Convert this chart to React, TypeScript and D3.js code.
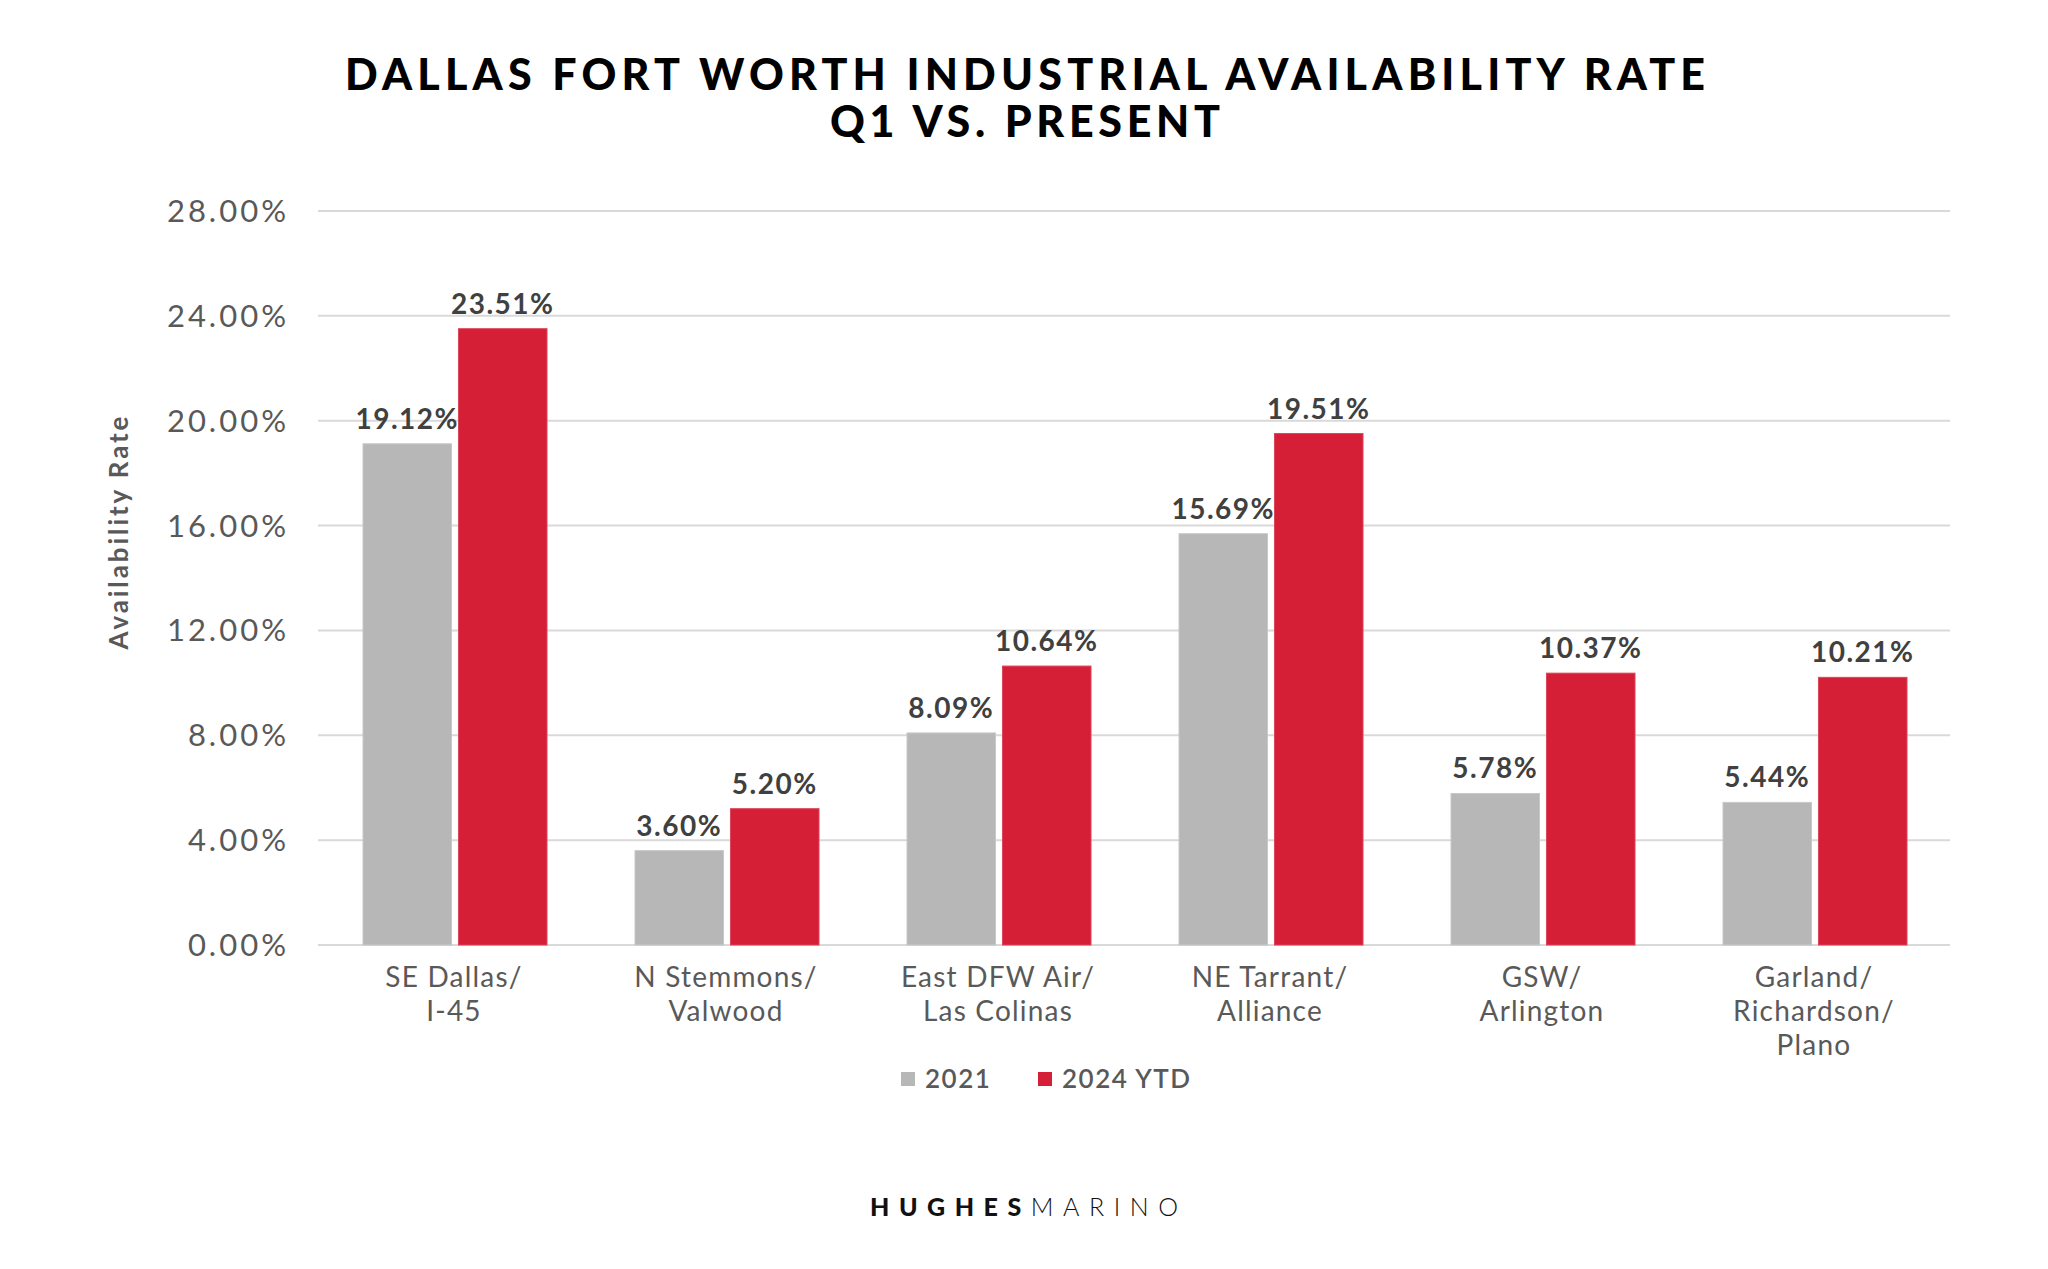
import React from "react";
import * as d3 from "d3";

const categories = [
  ["SE Dallas/", "I-45"],
  ["N Stemmons/", "Valwood"],
  ["East DFW Air/", "Las Colinas"],
  ["NE Tarrant/", "Alliance"],
  ["GSW/", "Arlington"],
  ["Garland/", "Richardson/", "Plano"],
];
const categoryKeys = categories.map((c) => c.join(" "));
const seriesNames = ["2021", "2024 YTD"];
const values2021 = [19.12, 3.6, 8.09, 15.69, 5.78, 5.44];
const values2024 = [23.51, 5.2, 10.64, 19.51, 10.37, 10.21];
const yTicks = [0, 4, 8, 12, 16, 20, 24, 28];
const colors = ["#b7b7b7", "#d51f36"];

const W = 2048;
const H = 1269;
const left = 318;
const right = 1950;
const top = 211;
const bottom = 945;

export default function App() {
  const x0 = d3.scaleBand().domain(categoryKeys).range([left, right]).padding(0);
  const x1 = d3
    .scaleBand()
    .domain(seriesNames)
    .range([45, 45 + 184])
    .paddingInner(0.073);
  const y = d3.scaleLinear().domain([0, 28]).range([bottom, top]);
  const series = [values2021, values2024];
  const fmt = (v: number) => v.toFixed(2) + "%";
  const font = "Lato, 'Open Sans', sans-serif";

  return (
    <svg width={W} height={H} style={{ position: "absolute", left: 0, top: 0, background: "#fff" }}>
      <rect x={0} y={0} width={W} height={H} fill="#fff" />
      {/* Title */}
      <text x={1025} y={90} textAnchor="middle" fontFamily={font} fontWeight={900} fontSize={43}
        textLength={1360} lengthAdjust="spacing" fill="#000">
        DALLAS FORT WORTH INDUSTRIAL AVAILABILITY RATE
      </text>
      <text x={1025} y={137} textAnchor="middle" fontFamily={font} fontWeight={900} fontSize={43}
        textLength={390} lengthAdjust="spacing" fill="#000">
        Q1 VS. PRESENT
      </text>

      {/* Gridlines and y ticks */}
      {yTicks.map((t) => (
        <g key={t}>
          <line x1={left} x2={right} y1={y(t)} y2={y(t)} stroke="#d9d9d9" strokeWidth={2} />
          <text x={289} y={y(t) + 11} textAnchor="end" fontFamily={font} fontSize={31}
            letterSpacing={3} fill="#595959">
            {t.toFixed(2) + "%"}
          </text>
        </g>
      ))}

      {/* Y axis title */}
      <text transform={`translate(128,533) rotate(-90)`} textAnchor="middle" fontFamily={font}
        fontWeight={700} fontSize={26} fill="#595959" textLength={233} lengthAdjust="spacing">
        Availability Rate
      </text>

      {/* Bars */}
      {categoryKeys.map((c, i) => (
        <g key={c} transform={`translate(${x0(c)},0)`}>
          {seriesNames.map((s, j) => {
            const v = series[j][i];
            const bx = x1(s)!;
            const bw = x1.bandwidth();
            return (
              <g key={s}>
                <rect x={bx} y={y(v)} width={bw} height={bottom - y(v)} fill={colors[j]}
                  stroke={j === 0 ? "#c8c8c8" : "#dc4458"} strokeWidth={1} />
                <text x={bx + bw / 2} y={y(v) - 15} textAnchor="middle" fontFamily={font}
                  fontWeight={700} fontSize={28} letterSpacing={1.5} fill="#404040">
                  {fmt(v)}
                </text>
              </g>
            );
          })}
          {categories[i].map((line, k) => (
            <text key={k} x={x0.bandwidth() / 2} y={987 + k * 34} textAnchor="middle"
              fontFamily={font} fontSize={28} letterSpacing={1.2} fill="#595959">
              {line}
            </text>
          ))}
        </g>
      ))}

      {/* Legend */}
      <rect x={901} y={1072} width={14} height={14} fill={colors[0]} />
      <text x={925} y={1088} fontFamily={font} fontWeight={600} fontSize={26} letterSpacing={1.5}
        fill="#595959">{seriesNames[0]}</text>
      <rect x={1038} y={1072} width={14} height={14} fill={colors[1]} />
      <text x={1062} y={1088} fontFamily={font} fontWeight={600} fontSize={26} letterSpacing={1.5}
        fill="#595959">{seriesNames[1]}</text>

      {/* Logo */}
      <text x={1024} y={1216} textAnchor="middle" fontFamily={font} fontSize={25}
        textLength={308} lengthAdjust="spacing" fill="#111">
        <tspan fontWeight={900}>HUGHES</tspan>
        <tspan fontWeight={300}>MARINO</tspan>
      </text>
    </svg>
  );
}
